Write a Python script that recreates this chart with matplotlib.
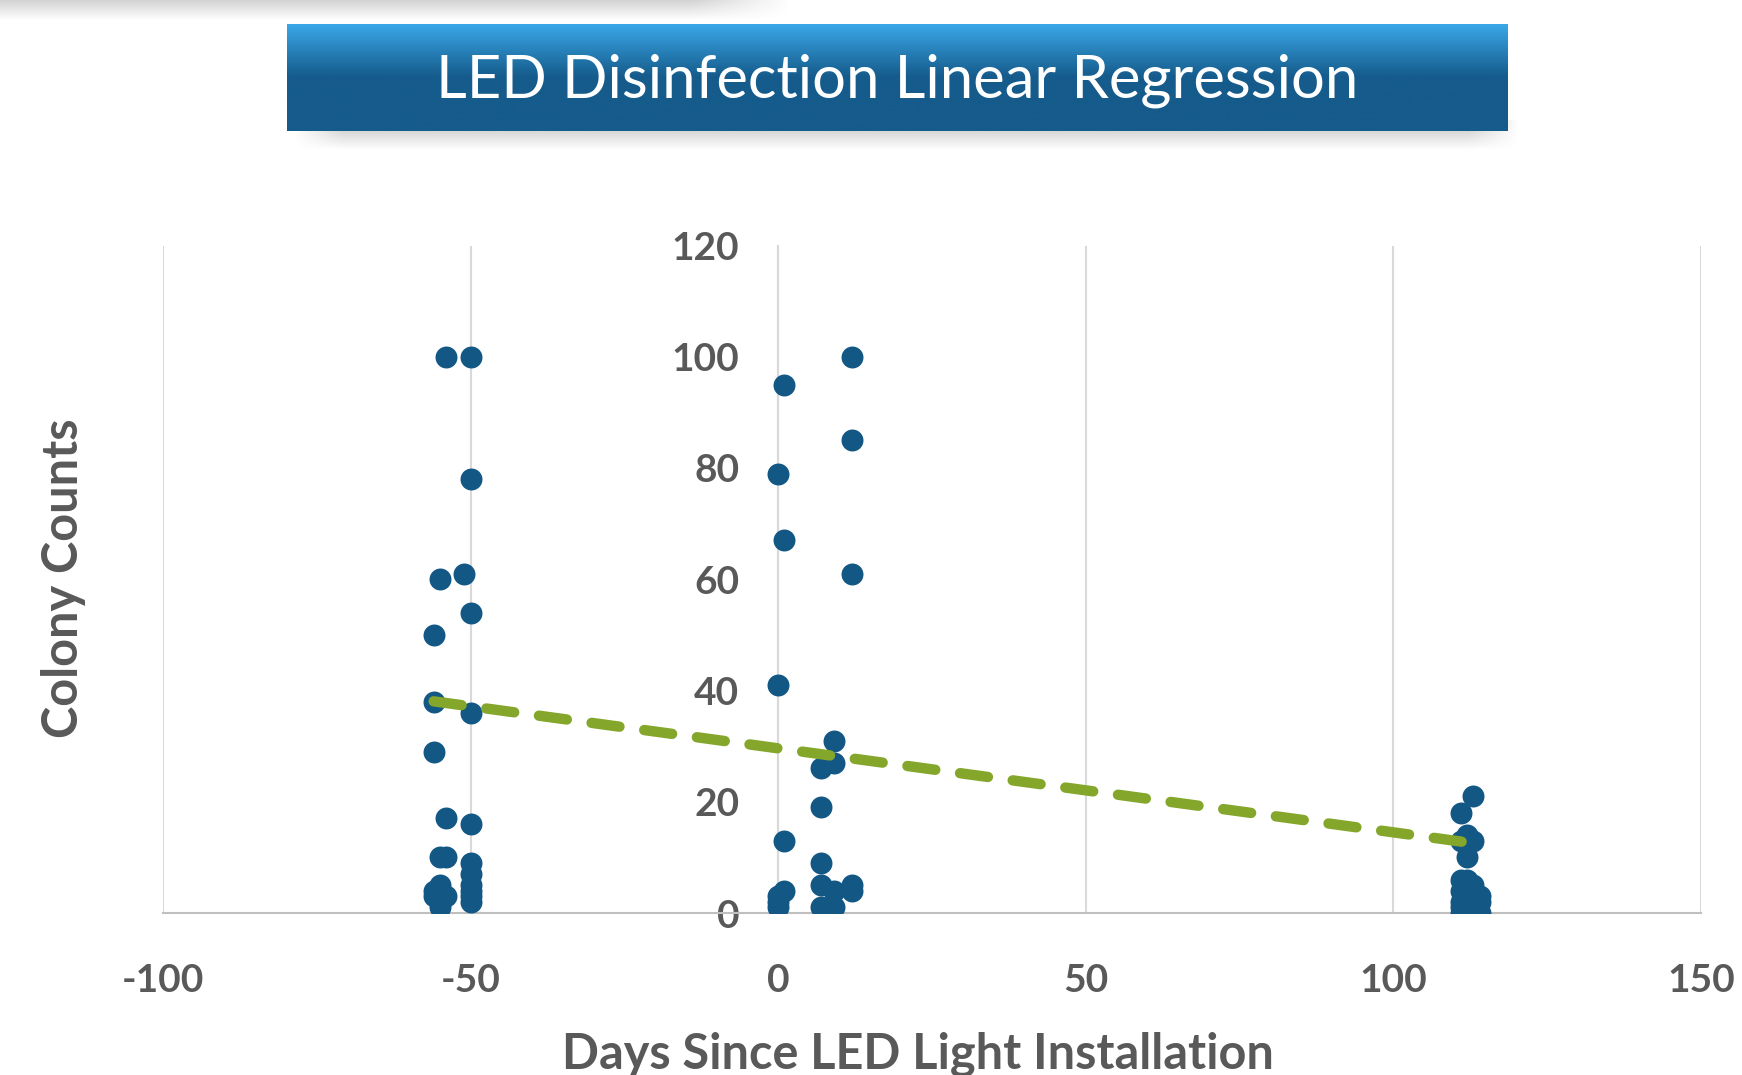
import numpy as np
import matplotlib.pyplot as plt

# ------------------------------ data ------------------------------
# days since installation (x) and colony counts (y)
days_before = [-54, -50, -50, -55, -51, -50, -56, -56, -50, -56, -54, -50, -55,
               -54, -50, -50, -50, -50, -50, -50, -56, -56, -55, -55, -54, -55]
counts_before = [100, 100, 78, 60, 61, 54, 50, 38, 36, 29, 17, 16, 10,
                 10, 9, 7, 5, 4, 3, 2, 4, 3, 5, 2, 3, 1]

days_install = [1, 0, 1, 0, 1, 1, 0, 0, 0, 7, 7, 7, 7, 7,
                9, 9, 9, 9, 12, 12, 12, 12, 12]
counts_install = [95, 79, 67, 41, 13, 4, 3, 2, 1, 26, 19, 9, 5, 1,
                  31, 27, 4, 1, 100, 85, 61, 5, 4]

days_after = [113, 111, 112, 111, 113, 112, 111, 112, 113, 111, 112, 114,
              111, 112, 113, 114, 111, 112, 113, 114, 112, 111]
counts_after = [21, 18, 14, 13, 13, 10, 6, 6, 5, 4, 4, 3,
                2, 2, 2, 2, 0, 0, 1, 0, 1, 1]

# trendline shown on the chart
trend_slope = -0.151
trend_intercept = 29.6

x_ticks = [-100, -50, 0, 50, 100, 150]
y_ticks = [0, 20, 40, 60, 80, 100, 120]

TITLE = 'LED Disinfection Linear Regression'
X_LABEL = 'Days Since LED Light Installation'
Y_LABEL = 'Colony Counts'

# ------------------------------ style ------------------------------
DOT = '#135784'
TREND = '#84a62a'
TEXT = '#595959'
GRID = '#d9d9d9'

plt.rcParams['font.family'] = ['Lato', 'DejaVu Sans']
plt.rcParams['axes.unicode_minus'] = False

fig = plt.figure(figsize=(17.42, 10.75), dpi=100)
W, H = 1742, 1075


def fig_axes(x0, y0, x1, y1):
    # pixel box (top-left origin) -> figure axes
    a = fig.add_axes([x0 / W, 1 - y1 / H, (x1 - x0) / W, (y1 - y0) / H])
    a.set_axis_off()
    return a


# faint shadow of a shape above the picture, top-left
sh = fig_axes(0, 0, 790, 20)
g = np.linspace(0.35, 0, 50)[:, None] * np.ones((1, 200))
side = np.clip((1 - np.linspace(0, 1, 200)[None, :]) * 8, 0, 1)
sh.imshow(np.dstack([np.full_like(g, 0.5)] * 3 + [g * side]),
          aspect='auto', extent=[0, 1, 0, 1])

# banner shadow
bs = fig_axes(292, 120, 1520, 150)
sg = np.linspace(0.45, 0, 60)[:, None] * np.ones((1, 300))
u = np.linspace(0, 1, 300)
edge = np.clip(np.minimum(u, 1 - u) * 25, 0, 1)[None, :]
bs.imshow(np.dstack([np.full_like(sg, 0.45)] * 3 + [sg * edge]),
          aspect='auto', extent=[0, 1, 0, 1])

# title banner with gradient
ban = fig_axes(287, 24, 1507, 131)
top = np.array([0x3b, 0xa9, 0xea]) / 255
mid = np.array([0x15, 0x5b, 0x8b]) / 255
t = np.linspace(0, 1, 200)
mix = np.clip(t / 0.5, 0, 1)[:, None]
grad = top * (1 - mix) + mid * mix
ban.imshow(grad[:, None, :], aspect='auto', extent=[0, 1, 0, 1])
ban.set_xlim(0, 1)
ban.set_ylim(0, 1)
ban.text(0.5, 0.47, TITLE, color='white', fontsize=43, ha='center', va='center')

# ------------------------------ chart ------------------------------
ax = fig_axes(163, 245.5, 1701, 913)
ax.set_axis_on()

all_days = days_before + days_install + days_after
all_counts = counts_before + counts_install + counts_after
ax.scatter(all_days, all_counts, s=250, color=DOT, zorder=3, linewidths=0)

tx = np.array([min(all_days), max(all_days)])
ax.plot(tx, trend_slope * tx + trend_intercept, color=TREND, lw=7.5,
        dashes=(2.7, 2.4), dash_capstyle='round', zorder=4)

ax.set_xlim(-100, 150)
ax.set_ylim(0, 120)
ax.set_xticks(x_ticks)
ax.set_yticks(y_ticks)
ax.xaxis.grid(True, color=GRID, lw=1.5, zorder=0)
ax.set_axisbelow(True)

for s in ['top', 'right']:
    ax.spines[s].set_visible(False)
ax.spines['left'].set_position(('data', 0))
ax.spines['left'].set_color(GRID)
ax.spines['left'].set_linewidth(1.5)
ax.spines['bottom'].set_color('#bfbfbf')
ax.spines['bottom'].set_linewidth(1.5)

ax.tick_params(axis='both', length=0, labelsize=28, labelcolor=TEXT)
ax.tick_params(axis='y', pad=28)
ax.tick_params(axis='x', pad=36)
for lab in ax.get_xticklabels() + ax.get_yticklabels():
    lab.set_fontweight('bold')

fig.text(918 / W, 1 - 1054 / H, X_LABEL, fontsize=35, fontweight='bold',
         color=TEXT, ha='center', va='center')
fig.text(63 / W, 1 - 578 / H, Y_LABEL, fontsize=35, fontweight='bold',
         color=TEXT, ha='center', va='center', rotation=90)

fig.savefig('out.png', dpi=100)
